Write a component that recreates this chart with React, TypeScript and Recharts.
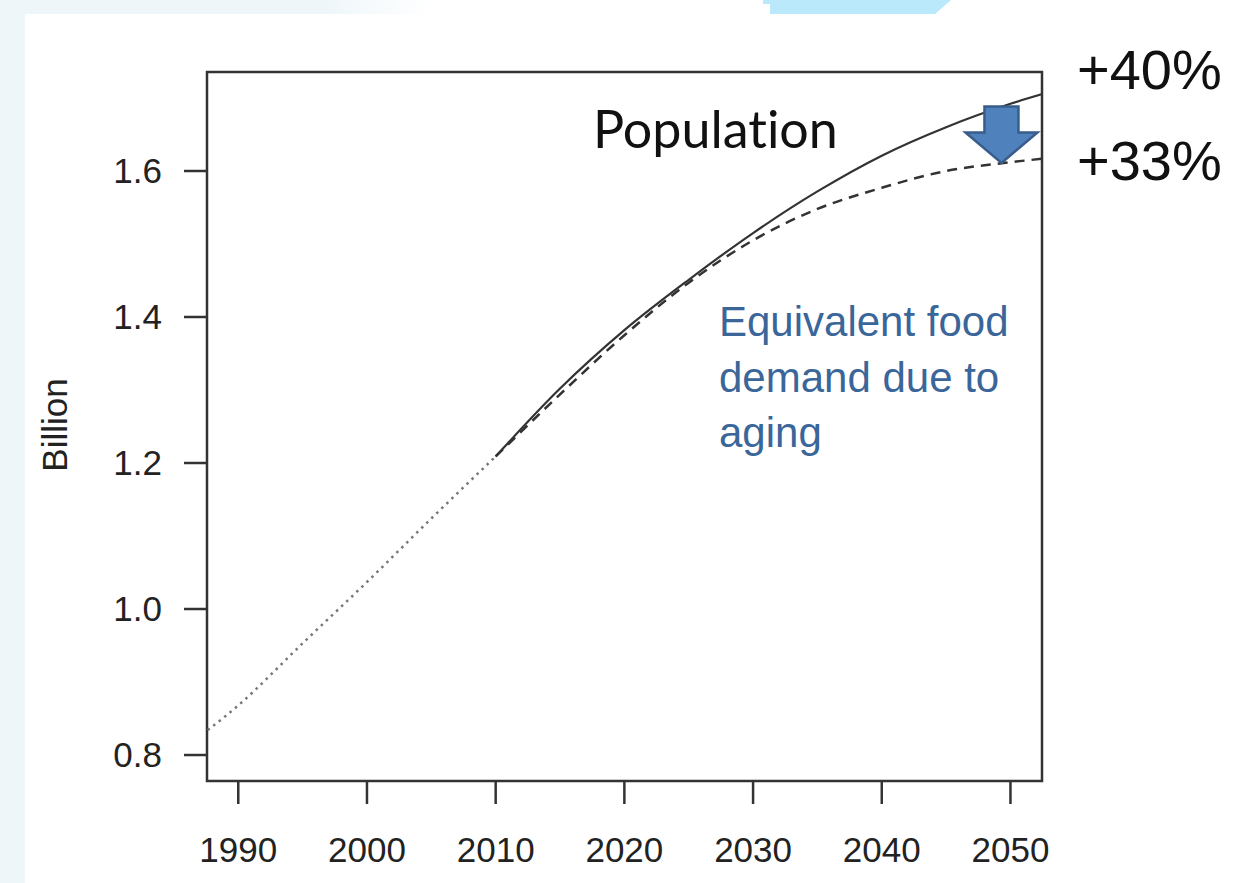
import { LineChart, Line, XAxis, YAxis, ReferenceArea, ReferenceDot } from "recharts";

const years = [1985, 1990, 1995, 2000, 2005, 2010, 2015, 2020, 2025, 2030, 2035, 2040, 2045, 2050, 2055];
const history = [0.8, 0.868, 0.953, 1.037, 1.124, 1.209, null, null, null, null, null, null, null, null, null];
const population = [null, null, null, null, null, 1.209, 1.302, 1.382, 1.451, 1.515, 1.572, 1.621, 1.66, 1.692, 1.718];
const foodDemand = [null, null, null, null, null, 1.209, 1.294, 1.375, 1.447, 1.505, 1.548, 1.577, 1.6, 1.612, 1.621];

const xTicks = [1990, 2000, 2010, 2020, 2030, 2040, 2050];
const yTicks = [0.8, 1.0, 1.2, 1.4, 1.6];
const xDomain = [1987.57, 2052.45];
const yDomain = [0.7644, 1.7356];

const data = years.map((year, i) => ({
  year,
  history: history[i],
  population: population[i],
  food: foodDemand[i],
}));

const tickFont = { fill: "#222", fontSize: 35, fontFamily: "Liberation Sans, Arial, sans-serif" };

// office-style block arrow, tip sits on the dashed line in 2050
const DownArrow = (props: any) => {
  const { cx, cy } = props;
  const pts = [
    [0, 0], [36, -30.5], [17, -30.5], [17, -56.5],
    [-17, -56.5], [-17, -30.5], [-36, -30.5],
  ].map(([dx, dy]) => `${cx + dx},${cy + dy}`).join(" ");
  return <polygon points={pts} fill="#4F81BD" stroke="#385D8A" strokeWidth={2.5} strokeLinejoin="miter" />;
};

export default function App() {
  return (
    <div style={{ position: "absolute", left: 0, top: 0, width: 1243, height: 883, background: "#fff", overflow: "hidden" }}>
      <svg width={1243} height={883} style={{ position: "absolute", left: 0, top: 0 }}>
        <defs>
          <linearGradient id="fade" x1="0" x2="1" y1="0" y2="0">
            <stop offset="0.75" stopColor="#eef6fa" stopOpacity={1} />
            <stop offset="1" stopColor="#eef6fa" stopOpacity={0} />
          </linearGradient>
        </defs>
        <rect x={0} y={0} width={430} height={14} fill="url(#fade)" />
        <rect x={0} y={0} width={25} height={883} fill="#eef6fa" />
        <polygon points="763,0 951,0 935,14 770,14 770,4 763,4" fill="#b9e9fb" />
      </svg>

      <div style={{ position: "absolute", left: 0, top: 0 }}>
        <LineChart width={1243} height={883} data={data} margin={{ top: 72, right: 201, bottom: 12, left: 107 }}>
          <XAxis
            dataKey="year"
            type="number"
            domain={xDomain}
            ticks={xTicks}
            allowDataOverflow
            height={90}
            tickSize={23}
            tickMargin={33}
            axisLine={false}
            tickLine={{ stroke: "#333", strokeWidth: 2.5 }}
            tick={tickFont}
          />
          <YAxis
            type="number"
            domain={yDomain}
            ticks={yTicks}
            allowDataOverflow
            width={100}
            tickSize={23}
            tickMargin={22}
            axisLine={false}
            tickLine={{ stroke: "#333", strokeWidth: 2.5 }}
            tick={tickFont}
            tickFormatter={(v: number) => v.toFixed(1)}
          />
          <ReferenceArea
            x1={xDomain[0]}
            x2={xDomain[1]}
            y1={yDomain[0]}
            y2={yDomain[1]}
            fill="none"
            fillOpacity={0}
            stroke="#333"
            strokeWidth={2.5}
          />
          <Line
            dataKey="history"
            type="monotone"
            stroke="#777"
            strokeWidth={2.5}
            strokeDasharray="2.5 4.5"
            dot={false}
            connectNulls={false}
            isAnimationActive={false}
          />
          <Line
            dataKey="food"
            type="monotone"
            stroke="#333"
            strokeWidth={2.5}
            strokeDasharray="10 7"
            dot={false}
            isAnimationActive={false}
          />
          <Line
            dataKey="population"
            type="monotone"
            stroke="#333"
            strokeWidth={2.2}
            dot={false}
            isAnimationActive={false}
          />
          <ReferenceDot x={2049.3} y={1.611} r={0} shape={DownArrow} />
        </LineChart>
      </div>

      <svg width={1243} height={883} style={{ position: "absolute", left: 0, top: 0, pointerEvents: "none" }}>
        <text
          transform="translate(67,425) rotate(-90)"
          textAnchor="middle"
          fontSize={35}
          fontFamily="Liberation Sans, Arial, sans-serif"
          fill="#222"
        >
          Billion
        </text>
        <text
          x={593}
          y={148}
          fontSize={52}
          fontFamily="Lato, 'Open Sans', sans-serif"
          fill="#111"
          style={{ fontVariantLigatures: "none" }}
        >
          Population
        </text>
        <text fontSize={42} fontFamily="Liberation Sans, Arial, sans-serif" fill="#3b6699">
          <tspan x={719} y={336}>Equivalent food</tspan>
          <tspan x={719} y={392}>demand due to</tspan>
          <tspan x={719} y={447}>aging</tspan>
        </text>
        <text x={1077} y={89} fontSize={56} fontFamily="Liberation Sans, Arial, sans-serif" fill="#111">
          +40%
        </text>
        <text x={1077} y={180} fontSize={56} fontFamily="Liberation Sans, Arial, sans-serif" fill="#111">
          +33%
        </text>
      </svg>
    </div>
  );
}
